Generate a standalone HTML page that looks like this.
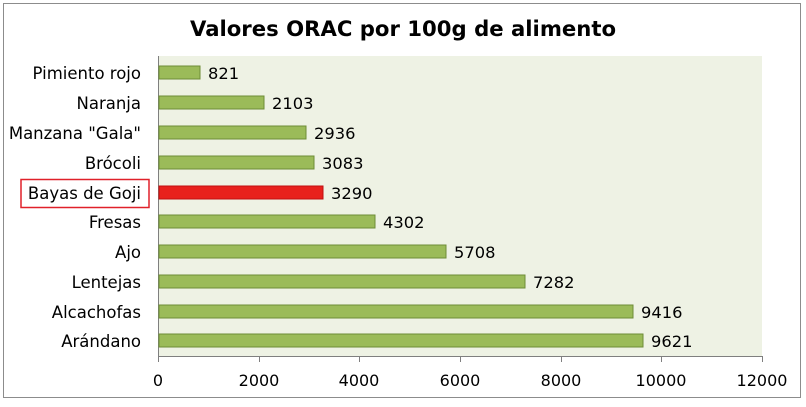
<!DOCTYPE html>
<html><head><meta charset="utf-8"><style>
body{margin:0;background:#fff;}
text{font-family:"DejaVu Sans","Liberation Sans",sans-serif;}
</style></head><body>
<svg width="806" height="402" xmlns="http://www.w3.org/2000/svg">
<rect x="0" y="0" width="806" height="402" fill="#fff"/>
<rect x="3.5" y="3.5" width="797" height="394" fill="#fff" stroke="#8c8c8c"/>
<text x="403" y="36" text-anchor="middle" font-size="21.2" font-weight="bold" fill="#000">Valores ORAC por 100g de alimento</text>
<rect x="158" y="56" width="604" height="300" fill="#eef2e4"/>
<g stroke="#7f7f7f" stroke-width="1">
<line x1="158.5" y1="56" x2="158.5" y2="356"/>
<line x1="158" y1="356.5" x2="762" y2="356.5"/>
<line x1="158.5" y1="356" x2="158.5" y2="362"/>
<line x1="259.5" y1="356" x2="259.5" y2="362"/>
<line x1="359.5" y1="356" x2="359.5" y2="362"/>
<line x1="460.5" y1="356" x2="460.5" y2="362"/>
<line x1="561.5" y1="356" x2="561.5" y2="362"/>
<line x1="661.5" y1="356" x2="661.5" y2="362"/>
<line x1="762.5" y1="356" x2="762.5" y2="362"/>
</g>
<g font-size="16" fill="#000" text-anchor="middle">
<text x="158" y="386">0</text><text x="259" y="386">2000</text><text x="359" y="386">4000</text>
<text x="460" y="386">6000</text><text x="561" y="386">8000</text><text x="661" y="386">10000</text><text x="762" y="386">12000</text>
</g>
<g stroke="#6e8c36" stroke-width="1" fill="#9bbb59">
<rect x="159" y="66" width="41" height="13"/>
<rect x="159" y="96" width="105" height="13"/>
<rect x="159" y="126" width="147" height="13"/>
<rect x="159" y="156" width="155" height="13"/>
<rect x="159" y="186" width="164" height="13" fill="#e8211c" stroke="#c01010"/>
<rect x="159" y="215" width="216" height="13"/>
<rect x="159" y="245" width="287" height="13"/>
<rect x="159" y="275" width="366" height="13"/>
<rect x="159" y="305" width="474" height="13"/>
<rect x="159" y="334" width="484" height="13"/>
</g>
<g font-size="16.3" fill="#000">
<text x="208" y="79">821</text>
<text x="272" y="109">2103</text>
<text x="314" y="139">2936</text>
<text x="322" y="169">3083</text>
<text x="331" y="199">3290</text>
<text x="383" y="228">4302</text>
<text x="454" y="258">5708</text>
<text x="533" y="288">7282</text>
<text x="641" y="318">9416</text>
<text x="651" y="347">9621</text>
</g>
<g font-size="16.5" fill="#000" text-anchor="end">
<text x="141" y="79">Pimiento rojo</text>
<text x="141" y="109">Naranja</text>
<text x="141" y="139">Manzana "Gala"</text>
<text x="141" y="169">Brócoli</text>
<text x="141" y="199">Bayas de Goji</text>
<text x="141" y="228">Fresas</text>
<text x="141" y="258">Ajo</text>
<text x="141" y="288">Lentejas</text>
<text x="141" y="318">Alcachofas</text>
<text x="141" y="347">Arándano</text>
</g>
<rect x="21" y="179.5" width="128" height="28" fill="none" stroke="#e0212a" stroke-width="1.5"/>
</svg>
</body></html>
